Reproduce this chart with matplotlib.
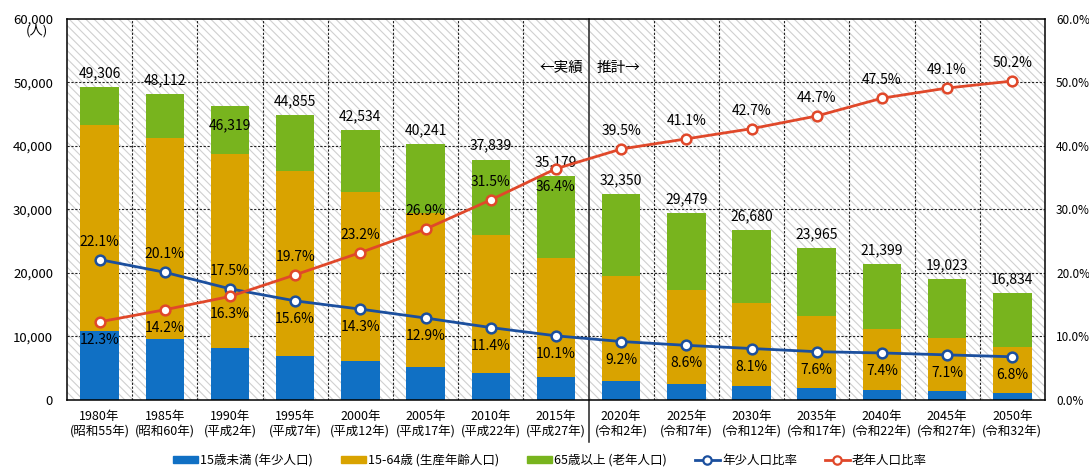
import matplotlib.pyplot as plt
from matplotlib.patches import Rectangle, Patch
from matplotlib.lines import Line2D

plt.rcParams['font.family'] = ['Noto Sans CJK JP', 'DejaVu Sans']
plt.rcParams['hatch.linewidth'] = 0.8

# data
years = ['1980年\n(昭和55年)', '1985年\n(昭和60年)', '1990年\n(平成2年)', '1995年\n(平成7年)',
         '2000年\n(平成12年)', '2005年\n(平成17年)', '2010年\n(平成22年)', '2015年\n(平成27年)',
         '2020年\n(令和2年)', '2025年\n(令和7年)', '2030年\n(令和12年)', '2035年\n(令和17年)',
         '2040年\n(令和22年)', '2045年\n(令和27年)', '2050年\n(令和32年)']
totals = [49306, 48112, 46319, 44855, 42534, 40241, 37839, 35179,
          32350, 29479, 26680, 23965, 21399, 19023, 16834]
young = [10897, 9671, 8106, 6997, 6082, 5191, 4314, 3553,
         2976, 2535, 2161, 1821, 1584, 1351, 1145]
working = [32344, 31609, 30663, 29022, 26584, 24225, 21606, 18821,
           16596, 14828, 13127, 11432, 9650, 8332, 7238]
elderly = [6065, 6832, 7550, 8836, 9868, 10825, 11919, 12805,
           12778, 12116, 11392, 10712, 10165, 9340, 8451]
young_pct = [22.1, 20.1, 17.5, 15.6, 14.3, 12.9, 11.4, 10.1,
             9.2, 8.6, 8.1, 7.6, 7.4, 7.1, 6.8]
old_pct = [12.3, 14.2, 16.3, 19.7, 23.2, 26.9, 31.5, 36.4,
           39.5, 41.1, 42.7, 44.7, 47.5, 49.1, 50.2]

c_blue = '#1070c4'
c_orange = '#d9a300'
c_green = '#78b41e'
c_line_y = '#1b4f9e'
c_line_o = '#e0482a'

fig = plt.figure(figsize=(10.89, 4.70), dpi=100)
ax = fig.add_axes([0.0615, 0.149, 0.898, 0.811])
x = list(range(len(years)))

# hatched background
ax.add_patch(Rectangle((0, 0), 1, 1, transform=ax.transAxes, facecolor='white',
                       edgecolor='#d0d0d0', hatch='\\\\\\\\', lw=0, zorder=0))

# grid
for i in range(1, len(years)):
    if i == 8:
        continue
    ax.axvline(i - 0.5, color='#222222', lw=0.8, ls=(0, (2, 1.5)), zorder=1)
for v in range(10000, 60000, 10000):
    ax.axhline(v, color='#222222', lw=0.8, ls=(0, (2, 1.5)), zorder=1)

w = 0.59
ax.bar(x, young, w, color=c_blue, zorder=2)
ax.bar(x, working, w, bottom=young, color=c_orange, zorder=2)
bottoms = [a + b for a, b in zip(young, working)]
ax.bar(x, elderly, w, bottom=bottoms, color=c_green, zorder=2)

# total labels
for i, t in enumerate(totals):
    dy = -14 if i == 2 else 10
    ax.annotate(f'{t:,}', (i, t), xytext=(0, dy), textcoords='offset points',
                ha='center', va='center', fontsize=10, zorder=5)

# divider between actual and estimated
ax.plot([7.5, 7.5], [1, -0.11], transform=ax.get_xaxis_transform(), color='#222222',
        lw=1.1, clip_on=False, zorder=3)
ax.text(7.42, 0.87, '←実績', transform=ax.get_xaxis_transform(), ha='right', va='center', fontsize=10.5)
ax.text(7.62, 0.87, '推計→', transform=ax.get_xaxis_transform(), ha='left', va='center', fontsize=10.5)

ax.set_xlim(-0.5, len(years) - 0.5)
ax.set_ylim(0, 60000)
ax.set_yticks(range(0, 60001, 10000))
ax.set_yticklabels(['0'] + [f'{v:,}' for v in range(10000, 60001, 10000)], fontsize=9.5)
ax.set_xticks(x)
ax.set_xticklabels(years, fontsize=9, linespacing=1.3)
ax.tick_params(length=0, pad=7)
ax.tick_params(axis='y', pad=10)
for s in ax.spines.values():
    s.set_linewidth(1.1)
    s.set_zorder(6)

# ratio lines
ax2 = ax.twinx()
ax2.set_ylim(0, 60)
ax2.set_yticks(range(0, 61, 10))
ax2.set_yticklabels([f'{v:.1f}%' for v in range(0, 61, 10)], fontsize=8.5)
ax2.tick_params(length=0, pad=8)
ax2.plot(x, young_pct, color=c_line_y, lw=2, marker='o', ms=7, mfc='white', mew=1.8, zorder=4)
ax2.plot(x, old_pct, color=c_line_o, lw=2, marker='o', ms=7, mfc='white', mew=1.8, zorder=4)
for s in ax2.spines.values():
    s.set_visible(False)

for i in range(len(years)):
    yo = 13 if i <= 2 else -13
    ax2.annotate(f'{young_pct[i]:.1f}%', (i, young_pct[i]), xytext=(0, yo), textcoords='offset points',
                 ha='center', va='center', fontsize=10, zorder=5)
    oo = -13 if (i <= 2 or i == 7) else 13
    ax2.annotate(f'{old_pct[i]:.1f}%', (i, old_pct[i]), xytext=(0, oo), textcoords='offset points',
                 ha='center', va='center', fontsize=10, zorder=5)

fig.text(0.034, 0.935, '(人)', fontsize=9.5, ha='center', va='center')

handles = [Patch(color=c_blue), Patch(color=c_orange), Patch(color=c_green),
           Line2D([], [], color=c_line_y, lw=2, marker='o', ms=6, mfc='white', mew=1.6),
           Line2D([], [], color=c_line_o, lw=2, marker='o', ms=6, mfc='white', mew=1.6)]
labels = ['15歳未満 (年少人口)', '15-64歳 (生産年齢人口)', '65歳以上 (老年人口)', '年少人口比率', '老年人口比率']
fig.legend(handles, labels, loc='center', bbox_to_anchor=(0.505, 0.02), ncol=5, frameon=False,
           fontsize=9, handlelength=2.0, handleheight=0.45, handletextpad=0.2, columnspacing=2.2)

fig.savefig('out.png', dpi=100)
